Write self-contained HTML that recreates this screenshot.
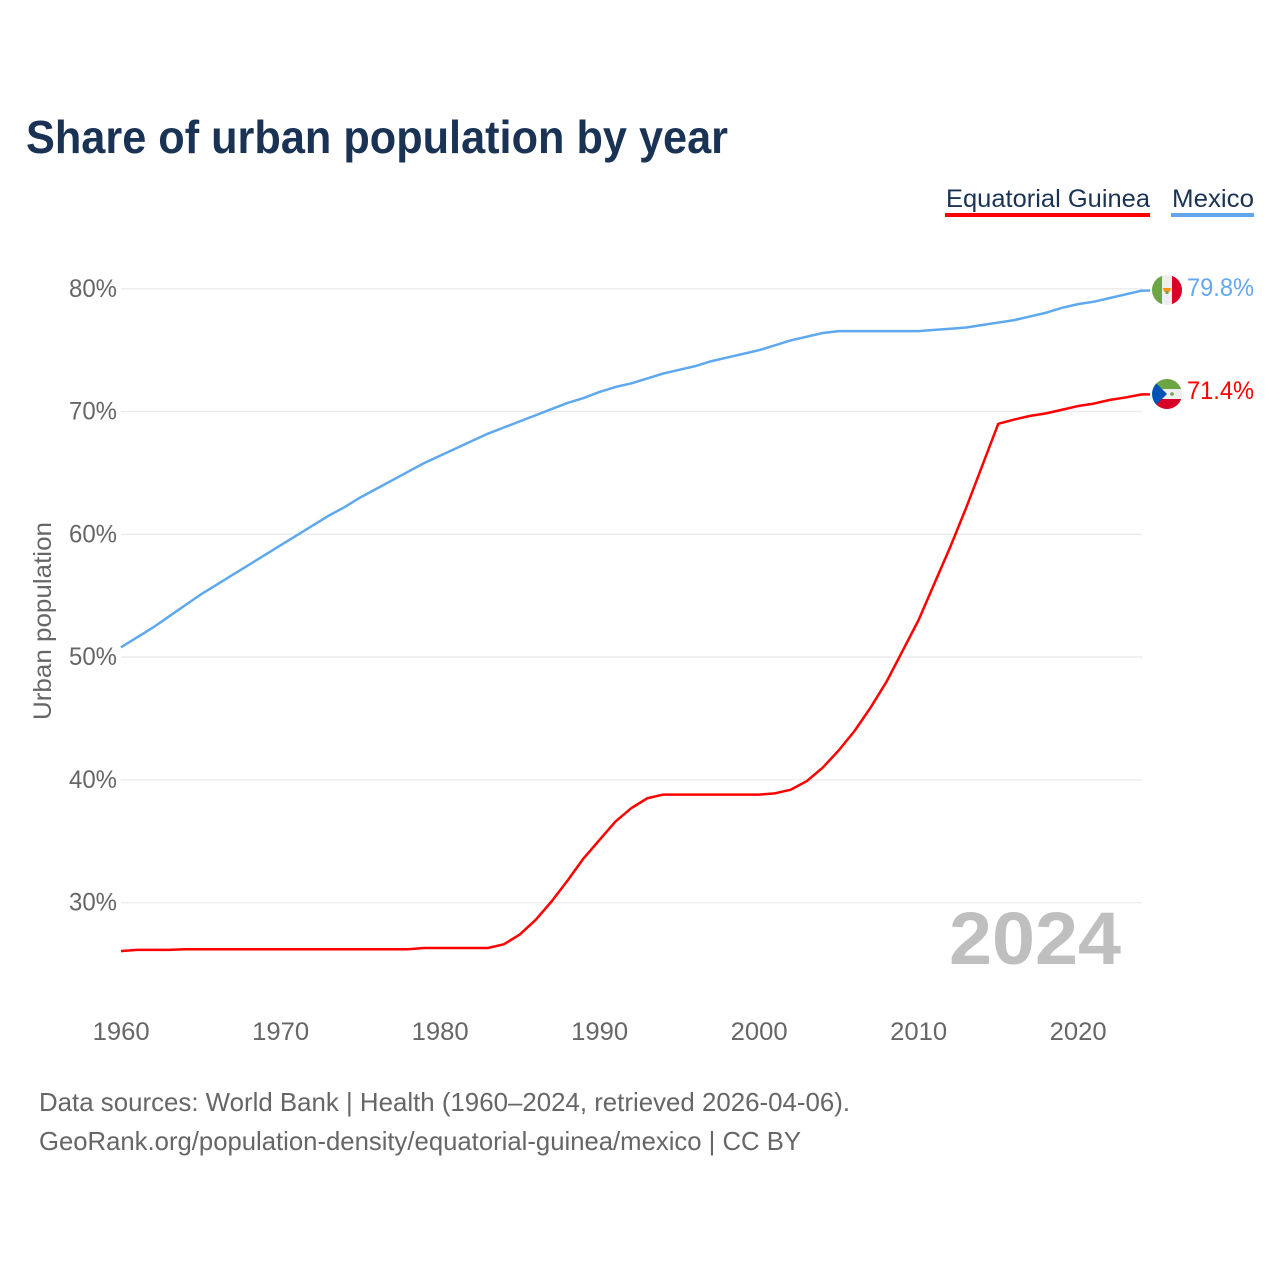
<!DOCTYPE html>
<html lang="en">
<head>
<meta charset="utf-8">
<title>Share of urban population by year</title>
<style>
html,body{margin:0;padding:0;background:#fff;}
svg{display:block;font-family:"Liberation Sans",sans-serif;}
</style>
</head>
<body>
<svg id="chart" width="1280" height="1280" viewBox="0 0 1280 1280" xmlns="http://www.w3.org/2000/svg">
  <defs>
    <clipPath id="flag-clip-mx"><circle cx="1167" cy="290" r="15"/></clipPath>
    <clipPath id="flag-clip-gq"><circle cx="1167" cy="394" r="15"/></clipPath>
  </defs>
  <text x="26" y="153" font-size="46" font-weight="700" fill="#1a3355" textLength="702" lengthAdjust="spacingAndGlyphs">Share of urban population by year</text>

  <g>
    <g>
      <text x="946" y="207" font-size="25" fill="#1a3355" textLength="204" lengthAdjust="spacingAndGlyphs">Equatorial Guinea</text>
      <rect x="945" y="213" width="205" height="4" fill="#ff0000"/>
    </g>
    <g>
      <text x="1172" y="207" font-size="25" fill="#1a3355" textLength="82" lengthAdjust="spacingAndGlyphs">Mexico</text>
      <rect x="1171" y="213" width="83" height="4" fill="#62a5ea"/>
    </g>
  </g>

  <g id="grid"></g>
  <g id="yticks"></g>
  <g id="xticks"></g>

  <text transform="translate(51,720) rotate(-90)" font-size="25" fill="#666666" textLength="198" lengthAdjust="spacingAndGlyphs">Urban population</text>

  <text x="949" y="964" font-size="74" font-weight="700" fill="#bfbfbf" textLength="172" lengthAdjust="spacingAndGlyphs">2024</text>

  <g id="series"></g>

  <g>
    <g clip-path="url(#flag-clip-mx)">
      <rect x="1152" y="275" width="30" height="30" fill="#eeeeee"/>
      <rect x="1152" y="275" width="10" height="30" fill="#6da544"/>
      <rect x="1172" y="275" width="10" height="30" fill="#d80027"/>
      <path d="M1162.5 288h9l-1.5 3.5-3 1.5-3-1.500z" fill="#ff9811"/>
      <circle cx="1167" cy="292.5" r="1.6" fill="#6da544"/>
    </g>
  </g>
  <g>
    <g clip-path="url(#flag-clip-gq)">
      <rect x="1152" y="379" width="30" height="30" fill="#eeeeee"/>
      <rect x="1152" y="379" width="30" height="10" fill="#6da544"/>
      <rect x="1152" y="399" width="30" height="10" fill="#d80027"/>
      <path d="M1152 379l15 15-15 15z" fill="#0052b4"/>
      <circle cx="1172" cy="394" r="1.8" fill="#6da544"/>
    </g>
  </g>

  <text x="1187" y="296" font-size="25" fill="#62a8f0" textLength="67" lengthAdjust="spacingAndGlyphs">79.8%</text>
  <text x="1187" y="399" font-size="25" fill="#ff0000" textLength="67" lengthAdjust="spacingAndGlyphs">71.4%</text>

  <text x="39" y="1111" font-size="26" fill="#666666" textLength="811" lengthAdjust="spacingAndGlyphs">Data sources: World Bank | Health (1960–2024, retrieved 2026-04-06).</text>
  <text x="39" y="1150" font-size="26" fill="#666666" textLength="762" lengthAdjust="spacingAndGlyphs">GeoRank.org/population-density/equatorial-guinea/mexico | CC BY</text>
</svg>
<script>
const years = [1960,1961,1962,1963,1964,1965,1966,1967,1968,1969,1970,1971,1972,1973,1974,1975,1976,1977,1978,1979,1980,1981,1982,1983,1984,1985,1986,1987,1988,1989,1990,1991,1992,1993,1994,1995,1996,1997,1998,1999,2000,2001,2002,2003,2004,2005,2006,2007,2008,2009,2010,2011,2012,2013,2014,2015,2016,2017,2018,2019,2020,2021,2022,2023,2024];
const mexicoValues = [50.8,51.6,52.4,53.3,54.2,55.1,55.9,56.7,57.5,58.3,59.1,59.9,60.7,61.5,62.2,63.0,63.7,64.4,65.1,65.8,66.4,67.0,67.6,68.2,68.7,69.2,69.7,70.2,70.7,71.1,71.6,72.0,72.3,72.7,73.1,73.4,73.7,74.1,74.4,74.7,75.0,75.4,75.8,76.1,76.4,76.55,76.55,76.55,76.55,76.55,76.55,76.65,76.75,76.85,77.05,77.25,77.45,77.75,78.05,78.45,78.75,78.95,79.25,79.55,79.85];
const guineaValues = [26.05,26.15,26.15,26.15,26.2,26.2,26.2,26.2,26.2,26.2,26.2,26.2,26.2,26.2,26.2,26.2,26.2,26.2,26.2,26.3,26.3,26.3,26.3,26.3,26.6,27.4,28.6,30.1,31.8,33.6,35.1,36.6,37.7,38.5,38.8,38.8,38.8,38.8,38.8,38.8,38.8,38.9,39.2,39.9,41.0,42.4,44.0,45.9,48.0,50.5,53.0,56.0,59.0,62.2,65.6,69.0,69.35,69.65,69.85,70.15,70.45,70.65,70.95,71.15,71.4];
const yTickValues = [30,40,50,60,70,80];
const yTickLabels = ['30%','40%','50%','60%','70%','80%'];
const xTickValues = [1960,1970,1980,1990,2000,2010,2020];
const xTickLabels = ['1960','1970','1980','1990','2000','2010','2020'];

const NS = 'http://www.w3.org/2000/svg';
function xScale(year){ return 121 + (year - 1960) * 15.95; }
function yScale(val){ return 902.6 - (val - 30) * 12.276; }
function seriesPath(vals){
  const pts = vals.map(function(v,i){ return (i ? 'L' : 'M') + xScale(years[i]).toFixed(2) + ' ' + yScale(v).toFixed(2); });
  pts.push('L1150 ' + yScale(vals[vals.length - 1]).toFixed(2));
  return pts.join('');
}

const gridG = document.getElementById('grid');
const yG = document.getElementById('yticks');
yTickValues.forEach(function(v,i){
  const line = document.createElementNS(NS,'line');
  
  
  line.setAttribute('x1', 121);
  line.setAttribute('x2', 1142);
  line.setAttribute('y1', yScale(v));
  line.setAttribute('y2', yScale(v));
  line.setAttribute('stroke', '#ebebeb');
  line.setAttribute('stroke-width', '1.3');
  gridG.appendChild(line);
  const t = document.createElementNS(NS,'text');
  
  
  t.setAttribute('x', 69);
  t.setAttribute('y', yScale(v) + 8);
  t.setAttribute('font-size', '25');
  t.setAttribute('fill', '#666666');
  t.setAttribute('textLength', '48');
  t.setAttribute('lengthAdjust', 'spacingAndGlyphs');
  t.textContent = yTickLabels[i];
  yG.appendChild(t);
});

const xG = document.getElementById('xticks');
xTickValues.forEach(function(v,i){
  const t = document.createElementNS(NS,'text');
  
  
  t.setAttribute('x', xScale(v) - 28.3);
  t.setAttribute('y', 1040);
  t.setAttribute('font-size', '25');
  t.setAttribute('fill', '#666666');
  t.setAttribute('textLength', '57');
  t.setAttribute('lengthAdjust', 'spacingAndGlyphs');
  t.textContent = xTickLabels[i];
  xG.appendChild(t);
});

const sG = document.getElementById('series');
const blueLine = document.createElementNS(NS,'path');


blueLine.setAttribute('d', seriesPath(mexicoValues));
blueLine.setAttribute('fill', 'none');
blueLine.setAttribute('stroke', '#5ea8ee');
blueLine.setAttribute('stroke-width', '2.5');
blueLine.setAttribute('stroke-linejoin', 'round');
sG.appendChild(blueLine);

const redLine = document.createElementNS(NS,'path');


redLine.setAttribute('d', seriesPath(guineaValues));
redLine.setAttribute('fill', 'none');
redLine.setAttribute('stroke', '#ff0000');
redLine.setAttribute('stroke-width', '2.5');
redLine.setAttribute('stroke-linejoin', 'round');
sG.appendChild(redLine);
</script>
</body>
</html>
